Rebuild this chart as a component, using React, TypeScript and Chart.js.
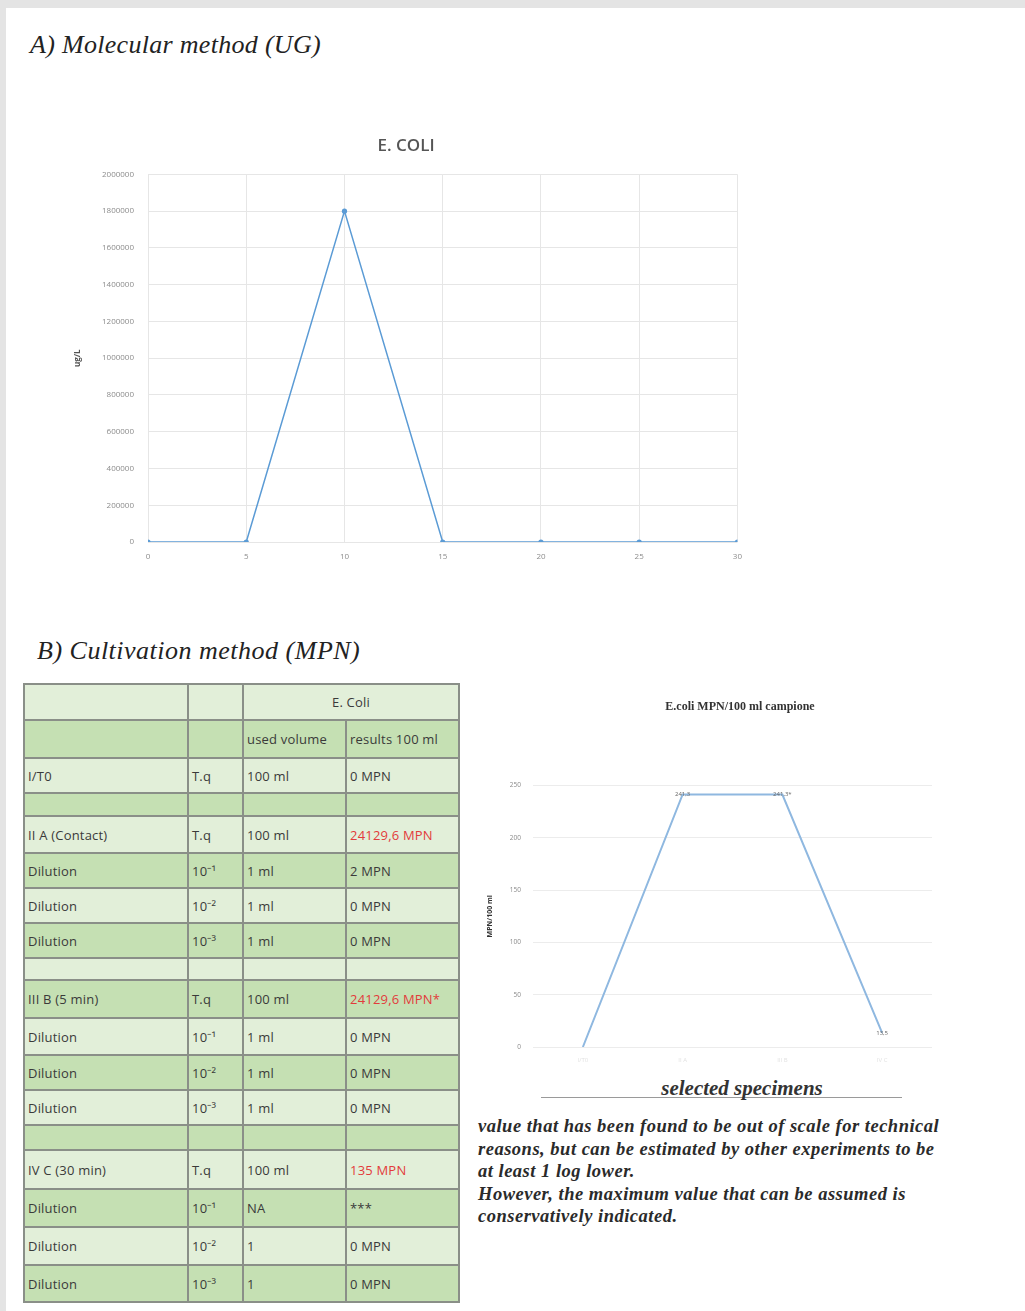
import React, { useEffect, useRef } from "react";
import { Chart, registerables } from "chart.js";

Chart.register(...registerables);

// ---- Chart A data (molecular method) ----
const ugX = [0, 5, 10, 15, 20, 25, 30];
const ugY = [0, 0, 1800000, 0, 0, 0, 0];

// ---- Chart B data (cultivation method) ----
const mpnCategories = ["I/T0", "II A", "III B", "IV C"];
const mpnValues = [0, 241.3, 241.3, 13.5];
const mpnLabels = ["", "241,3", "241,3*", "13,5"];

// ---- Table ----
const tableRows: string[][] = [
  ["I/T0", "T.q", "100 ml", "0 MPN"],
  ["", "", "", ""],
  ["II A (Contact)", "T.q", "100 ml", "24129,6 MPN"],
  ["Dilution", "10⁻¹", "1 ml", "2 MPN"],
  ["Dilution", "10⁻²", "1 ml", "0 MPN"],
  ["Dilution", "10⁻³", "1 ml", "0 MPN"],
  ["", "", "", ""],
  ["III B (5 min)", "T.q", "100 ml", "24129,6 MPN*"],
  ["Dilution", "10⁻¹", "1 ml", "0 MPN"],
  ["Dilution", "10⁻²", "1 ml", "0 MPN"],
  ["Dilution", "10⁻³", "1 ml", "0 MPN"],
  ["", "", "", ""],
  ["IV C (30 min)", "T.q", "100 ml", "135 MPN"],
  ["Dilution", "10⁻¹", "NA", "***"],
  ["Dilution", "10⁻²", "1", "0 MPN"],
  ["Dilution", "10⁻³", "1", "0 MPN"],
];
const redCells = ["24129,6 MPN", "24129,6 MPN*", "135 MPN"];

const noteLines = [
  "value that has been found to be out of scale for technical",
  "reasons, but can be estimated by other experiments to be",
  "at least 1 log lower.",
  "However, the maximum value that can be assumed is",
  "conservatively indicated.",
];

const LIGHT = "#e2efd9";
const DARK = "#c5e0b3";

function ChartA() {
  const ref = useRef<HTMLCanvasElement | null>(null);
  useEffect(() => {
    if (!ref.current) return;
    const chart = new Chart(ref.current, {
      type: "line",
      data: {
        datasets: [
          {
            data: ugX.map((x, i) => ({ x, y: ugY[i] })),
            borderColor: "#5b9bd5",
            backgroundColor: "#5b9bd5",
            borderWidth: 1.5,
            pointRadius: 2.6,
            pointBorderWidth: 0,
            tension: 0,
          },
        ],
      },
      options: {
        animation: false,
        responsive: false,
        devicePixelRatio: 1,
        plugins: {
          legend: { display: false },
          tooltip: { enabled: false },
          title: {
            display: true,
            text: "E. COLI",
            color: "#555555",
            font: { family: "'Open Sans', sans-serif", size: 17, weight: "600" },
            padding: { top: 11, bottom: 18 },
          },
        },
        scales: {
          x: {
            type: "linear",
            min: 0,
            max: 30,
            ticks: {
              stepSize: 5,
              color: "#8c8c8c",
              font: { family: "'Open Sans', sans-serif", size: 8 },
              padding: 10,
            },
            grid: { color: "#e6e6e6", drawTicks: false },
            border: { display: false },
            afterFit: (s: any) => {
              s.height = 33;
            },
          },
          y: {
            min: 0,
            max: 2000000,
            ticks: {
              stepSize: 200000,
              color: "#8c8c8c",
              font: { family: "'Open Sans', sans-serif", size: 8 },
              padding: 14,
              callback: (v: any) => String(v),
            },
            grid: { color: "#e6e6e6", drawTicks: false },
            border: { display: false },
            title: {
              display: true,
              text: "ug/L",
              color: "#555555",
              font: { family: "'Open Sans', sans-serif", size: 8, weight: "bold" },
              padding: { top: 13, bottom: 0 },
            },
            afterFit: (s: any) => {
              s.width = 88;
            },
          },
          yRight: {
            position: "right",
            display: true,
            ticks: { display: false },
            grid: { display: false },
            border: { display: false },
            afterFit: (s: any) => {
              s.width = 7;
            },
          },
        },
      },
    });
    return () => chart.destroy();
  }, []);
  return (
    <canvas
      ref={ref}
      width={692}
      height={450}
      style={{ position: "absolute", left: 60, top: 125, width: 692, height: 450 }}
    />
  );
}

const pointLabelPlugin = {
  id: "pointLabels",
  afterDatasetsDraw(chart: any) {
    const ctx = chart.ctx;
    const meta = chart.getDatasetMeta(0);
    ctx.save();
    ctx.font = "6px 'Open Sans', sans-serif";
    ctx.fillStyle = "#666666";
    ctx.textAlign = "center";
    ctx.textBaseline = "middle";
    meta.data.forEach((pt: any, i: number) => {
      const t = mpnLabels[i];
      if (t) ctx.fillText(t, pt.x, pt.y);
    });
    ctx.restore();
  },
};

function ChartB() {
  const ref = useRef<HTMLCanvasElement | null>(null);
  useEffect(() => {
    if (!ref.current) return;
    const chart = new Chart(ref.current, {
      type: "line",
      data: {
        labels: mpnCategories,
        datasets: [
          {
            data: mpnValues,
            borderColor: "#8fb8e0",
            backgroundColor: "#8fb8e0",
            borderWidth: 2,
            pointRadius: 0,
            tension: 0,
          },
        ],
      },
      plugins: [pointLabelPlugin],
      options: {
        animation: false,
        responsive: false,
        devicePixelRatio: 1,
        plugins: {
          legend: { display: false },
          tooltip: { enabled: false },
          title: {
            display: true,
            text: "E.coli MPN/100 ml campione",
            color: "#333333",
            font: { family: "'Liberation Serif', serif", size: 12, weight: "bold" },
            padding: { top: 15, bottom: 71 },
          },
        },
        scales: {
          x: {
            type: "category",
            offset: true,
            ticks: {
              color: "#e2e2e2",
              font: { family: "'Open Sans', sans-serif", size: 6 },
              padding: 2,
            },
            grid: { display: false },
            border: { display: false },
            afterFit: (s: any) => {
              s.height = 23;
            },
          },
          y: {
            min: 0,
            max: 250,
            ticks: {
              stepSize: 50,
              color: "#8a8a8a",
              font: { family: "'Open Sans', sans-serif", size: 6.5 },
              padding: 12,
            },
            grid: { color: "#ececec", drawTicks: false },
            border: { display: false },
            title: {
              display: true,
              text: "MPN/100 ml",
              color: "#333333",
              font: { family: "'Open Sans', sans-serif", size: 7, weight: "bold" },
              padding: { top: 6, bottom: 0 },
            },
            afterFit: (s: any) => {
              s.width = 53;
            },
          },
          yRight: {
            position: "right",
            display: true,
            ticks: { display: false },
            grid: { display: false },
            border: { display: false },
            afterFit: (s: any) => {
              s.width = 68;
            },
          },
        },
      },
    });
    return () => chart.destroy();
  }, []);
  return (
    <canvas
      ref={ref}
      width={520}
      height={385}
      style={{ position: "absolute", left: 480, top: 685, width: 520, height: 385 }}
    />
  );
}

function DataTable() {
  const rowHeights = [34, 36, 33, 21, 35, 33, 33, 33, 20, 36, 35, 33, 33, 23, 37, 36, 36, 35];
  const cellBase: React.CSSProperties = {
    display: "flex",
    alignItems: "center",
    paddingLeft: 3,
    fontFamily: "'Open Sans', sans-serif",
    fontSize: 13,
    letterSpacing: "0.2px",
    color: "#3a3a3a",
    whiteSpace: "nowrap",
    overflow: "hidden",
  };
  const cells: React.ReactNode[] = [];
  cells.push(<div key="h0" style={{ ...cellBase, background: LIGHT }} />);
  cells.push(<div key="h1" style={{ ...cellBase, background: LIGHT }} />);
  cells.push(
    <div
      key="h2"
      style={{ ...cellBase, background: LIGHT, gridColumn: "3 / span 2", justifyContent: "center", paddingLeft: 0 }}
    >
      E. Coli
    </div>
  );
  cells.push(<div key="g0" style={{ ...cellBase, background: DARK }} />);
  cells.push(<div key="g1" style={{ ...cellBase, background: DARK }} />);
  cells.push(<div key="g2" style={{ ...cellBase, background: DARK }}>used volume</div>);
  cells.push(<div key="g3" style={{ ...cellBase, background: DARK }}>results 100 ml</div>);
  tableRows.forEach((row, r) => {
    const bg = r % 2 === 0 ? LIGHT : DARK;
    row.forEach((txt, c) => {
      const red = c === 3 && redCells.includes(txt);
      cells.push(
        <div key={`r${r}c${c}`} style={{ ...cellBase, background: bg, color: red ? "#e23b3b" : "#3a3a3a" }}>
          {txt}
        </div>
      );
    });
  });
  return (
    <div
      style={{
        position: "absolute",
        left: 23,
        top: 683,
        width: 437,
        height: 620,
        boxSizing: "border-box",
        background: "#8a8f88",
        padding: 2,
        display: "grid",
        gap: 2,
        gridTemplateColumns: "162px 53px 101px 111px",
        gridTemplateRows: rowHeights.map((h) => `${h}px`).join(" "),
      }}
    >
      {cells}
    </div>
  );
}

export default function App() {
  const headingStyle: React.CSSProperties = {
    position: "absolute",
    fontFamily: "'Liberation Serif', 'DejaVu Serif', serif",
    fontStyle: "italic",
    fontSize: 26,
    letterSpacing: "0.3px",
    color: "#222",
    whiteSpace: "nowrap",
    lineHeight: "30px",
  };
  return (
    <div
      style={{
        position: "absolute",
        left: 0,
        top: 0,
        width: 1025,
        height: 1311,
        background: "#e4e4e4",
        overflow: "hidden",
      }}
    >
      <div style={{ position: "absolute", left: 6, top: 8, right: 0, bottom: 0, background: "#ffffff" }} />
      <div style={{ ...headingStyle, left: 30, top: 30 }}>A) Molecular method (UG)</div>
      <ChartA />
      <div style={{ ...headingStyle, left: 37, top: 636, letterSpacing: "0.5px" }}>B) Cultivation method (MPN)</div>
      <DataTable />
      <ChartB />
      <div
        style={{
          position: "absolute",
          left: 541,
          top: 1097,
          width: 361,
          height: 0,
          borderTop: "1px solid #9a9a9a",
        }}
      />
      <div
        style={{
          position: "absolute",
          left: 642,
          top: 1076,
          width: 200,
          textAlign: "center",
          fontFamily: "'Liberation Serif', serif",
          fontStyle: "italic",
          fontWeight: "bold",
          fontSize: 21,
          lineHeight: "24px",
          color: "#333",
          whiteSpace: "nowrap",
        }}
      >
        selected specimens
      </div>
      <div
        style={{
          position: "absolute",
          left: 478,
          top: 1115,
          fontFamily: "'Liberation Serif', serif",
          fontStyle: "italic",
          fontWeight: "bold",
          fontSize: 18.5,
          letterSpacing: "0.5px",
          lineHeight: "22.5px",
          color: "#2a2a2a",
          whiteSpace: "nowrap",
        }}
      >
        {noteLines.map((l, i) => (
          <div key={i}>{l}</div>
        ))}
      </div>
    </div>
  );
}
